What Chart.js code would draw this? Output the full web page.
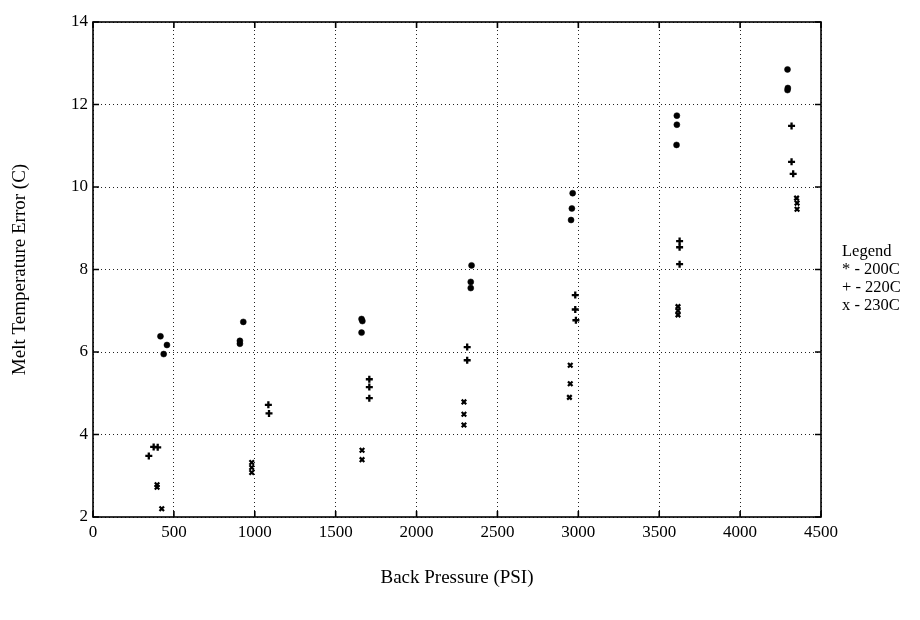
<!DOCTYPE html>
<html><head><meta charset="utf-8">
<script src="https://cdn.jsdelivr.net/npm/chart.js@4/dist/chart.umd.min.js"></script>
<style>html,body{margin:0;padding:0;background:#fff;}#wrap{width:920px;height:620px;position:relative;}</style>
</head><body><div id="wrap"><canvas id="c" width="920" height="620"></canvas></div>
<script>
// ---- data ----
const seriesLabels = ['200C', '220C', '230C'];
const legendSymbols = ['*', '+', 'x'];
const legendTitle = 'Legend';
const xTitle = 'Back Pressure (PSI)';
const yTitle = 'Melt Temperature Error (C)';

const x200 = [417, 457, 437, 929, 908, 908, 1660, 1665, 1660, 2340, 2335, 2335, 2965, 2960, 2955, 3609, 3609, 3607, 4293, 4295, 4293];
const y200 = [6.38, 6.17, 5.95, 6.73, 6.27, 6.20, 6.80, 6.75, 6.47, 8.10, 7.70, 7.55, 9.85, 9.48, 9.20, 11.73, 11.51, 11.02, 12.85, 12.40, 12.35];

const x220 = [345, 375, 400, 1084, 1088, 1708, 1708, 1708, 2313, 2313, 2981, 2981, 2985, 3626, 3626, 3626, 4318, 4318, 4328];
const y220 = [3.48, 3.70, 3.69, 4.72, 4.51, 5.34, 5.15, 4.88, 6.12, 5.80, 7.38, 7.03, 6.77, 8.69, 8.54, 8.13, 11.48, 10.61, 10.32];

const x230 = [396, 396, 425, 981, 981, 981, 1663, 1663, 2293, 2293, 2293, 2950, 2950, 2945, 3616, 3616, 3616, 4349, 4352, 4352];
const y230 = [2.78, 2.72, 2.20, 3.32, 3.20, 3.08, 3.62, 3.39, 4.79, 4.49, 4.23, 5.68, 5.23, 4.90, 7.10, 7.00, 6.90, 9.73, 9.61, 9.46];

const xTicks = [0, 500, 1000, 1500, 2000, 2500, 3000, 3500, 4000, 4500];
const xTickLabels = ['0', '500', '1000', '1500', '2000', '2500', '3000', '3500', '4000', '4500'];
const yTicks = [2, 4, 6, 8, 10, 12, 14];
const yTickLabels = ['2', '4', '6', '8', '10', '12', '14'];

const pts = (xs, ys) => xs.map((v, i) => ({x: v, y: ys[i]}));
const FONT = '"Liberation Serif", "DejaVu Serif", serif';

const framePlugin = {
  id: 'frame',
  afterDraw(chart) {
    const {ctx, chartArea: {left, right, top, bottom}, scales: {x, y}} = chart;
    ctx.save();
    ctx.strokeStyle = '#000';
    ctx.lineWidth = 1.6;
    ctx.strokeRect(left, top, right - left, bottom - top);
    const tl = 6;
    ctx.beginPath();
    x.ticks.forEach(t => {
      const px = x.getPixelForValue(t.value);
      ctx.moveTo(px, bottom); ctx.lineTo(px, bottom - tl);
      ctx.moveTo(px, top); ctx.lineTo(px, top + tl);
    });
    y.ticks.forEach(t => {
      const py = y.getPixelForValue(t.value);
      ctx.moveTo(left, py); ctx.lineTo(left + tl, py);
      ctx.moveTo(right, py); ctx.lineTo(right - tl, py);
    });
    ctx.stroke();
    // legend text
    ctx.fillStyle = '#000';
    ctx.font = '16.5px ' + FONT;
    ctx.textAlign = 'left';
    ctx.textBaseline = 'middle';
    const lx = right + 21, ly = 252;
    ctx.fillText(legendTitle, lx, ly);
    seriesLabels.forEach((s, i) => ctx.fillText(legendSymbols[i] + ' - ' + s, lx, ly + (i + 1) * 17.8));
    ctx.restore();
  }
};

new Chart(document.getElementById('c'), {
  type: 'scatter',
  data: {
    datasets: [
      {label: seriesLabels[0], data: pts(x200, y200), pointStyle: 'circle', pointRadius: 3, backgroundColor: '#000', borderColor: '#000', borderWidth: 0.5},
      {label: seriesLabels[1], data: pts(x220, y220), pointStyle: 'cross', pointRadius: 3.5, backgroundColor: '#000', borderColor: '#000', borderWidth: 2.3},
      {label: seriesLabels[2], data: pts(x230, y230), pointStyle: 'crossRot', pointRadius: 3.2, backgroundColor: '#000', borderColor: '#000', borderWidth: 2.2}
    ]
  },
  options: {
    responsive: false,
    animation: false,
    devicePixelRatio: 1,
    clip: false,
    layout: {padding: {left: 0, top: 22, right: 99, bottom: 0}},
    plugins: {legend: {display: false}, tooltip: {enabled: false}},
    scales: {
      x: {
        type: 'linear', min: 0, max: 4500,
        afterBuildTicks: s => { s.ticks = xTicks.map(v => ({value: v})); },
        afterFit: s => { s.height = 103; },
        ticks: {color: '#000', font: {family: FONT, size: 17}, padding: 5, maxRotation: 0,
                callback: (v, i) => xTickLabels[i]},
        grid: {color: '#222', lineWidth: 1, drawTicks: false},
        border: {display: false, dash: [1, 3]},
        title: {display: true, text: xTitle, color: '#000', font: {family: FONT, size: 19}, padding: {top: 0, bottom: 31}}
      },
      y: {
        type: 'linear', min: 2, max: 14,
        afterBuildTicks: s => { s.ticks = yTicks.map(v => ({value: v})); },
        afterFit: s => { s.width = 93; },
        ticks: {color: '#000', font: {family: FONT, size: 17}, padding: 5,
                callback: (v, i) => yTickLabels[i]},
        grid: {color: '#222', lineWidth: 1, drawTicks: false},
        border: {display: false, dash: [1, 3]},
        title: {display: true, text: yTitle, color: '#000', font: {family: FONT, size: 19}, padding: {top: 9, bottom: 0}}
      }
    }
  },
  plugins: [framePlugin]
});
</script></body></html>
